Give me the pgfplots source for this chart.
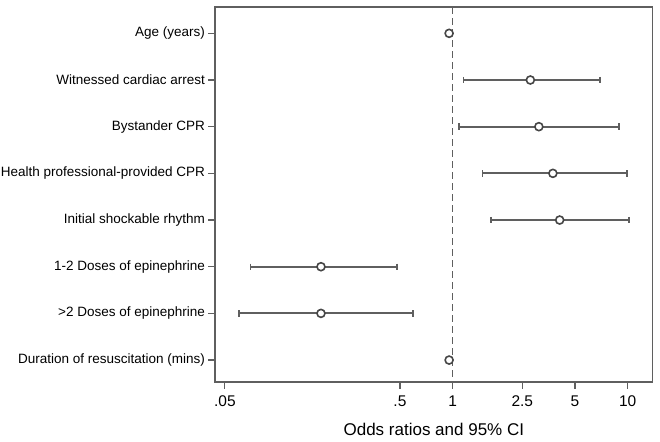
\documentclass[border=0pt]{standalone}
\usepackage{pgfplots}
\pgfplotsset{compat=1.18}
\usepackage{fontspec}
\setmainfont{Liberation Sans}
\definecolor{framegray}{RGB}{95,95,95}
\definecolor{bargray}{RGB}{95,95,95}
\definecolor{markgray}{RGB}{70,70,70}
\begin{document}
\begin{tikzpicture}
\begin{axis}[
  scale only axis,
  width=437.7pt, height=375pt,
  xmode=log, log basis x=10,
  xmin=0.0439, xmax=13.9,
  ymin=0.436, ymax=8.47, y dir=reverse,
  xtick={0.05,0.5,1,2.5,5,10},
  xticklabels={.05,.5,1,2.5,5,10},
  minor xtick={},
  ytick={1,2,3,4,5,6,7,8},
  yticklabels={Age (years),Witnessed cardiac arrest,Bystander CPR,Health professional-provided CPR,Initial shockable rhythm,1-2 Doses of epinephrine,>2 Doses of epinephrine,Duration of resuscitation (mins)},
  tick align=outside, tick pos=left,
  major tick length=6.5pt,
  axis line style={framegray, line width=1.5pt},
  every tick/.style={framegray, line width=1.2pt},
  /pgf/number format/assume math mode=true,
  xticklabel style={font=\fontsize{15.5}{18}\selectfont, text=black, yshift=-4pt},
  yticklabel style={font=\fontsize{13.5}{16}\selectfont, text=black},
  xlabel={Odds ratios and 95\% CI},
  xlabel style={font=\fontsize{17}{20}\selectfont, text=black, yshift=-9pt},
]
% reference line at OR = 1
\addplot[framegray, line width=1.4pt, dash pattern=on 7pt off 4pt] coordinates {(1,0.436) (1,8.47)};
% confidence intervals
\addplot[bargray, line width=2pt, mark=|, mark size=3.2pt, mark options={solid, line width=1.8pt}] coordinates {(1.155,2) (6.95,2)};
\addplot[bargray, line width=2pt, mark=|, mark size=3.2pt, mark options={solid, line width=1.8pt}] coordinates {(1.09,3) (8.89,3)};
\addplot[bargray, line width=2pt, mark=|, mark size=3.2pt, mark options={solid, line width=1.8pt}] coordinates {(1.48,4) (9.87,4)};
\addplot[bargray, line width=2pt, mark=|, mark size=3.2pt, mark options={solid, line width=1.8pt}] coordinates {(1.65,5) (10.2,5)};
\addplot[bargray, line width=2pt, mark=|, mark size=3.2pt, mark options={solid, line width=1.8pt}] coordinates {(0.070,6) (0.482,6)};
\addplot[bargray, line width=2pt, mark=|, mark size=3.2pt, mark options={solid, line width=1.8pt}] coordinates {(0.060,7) (0.591,7)};
% point estimates
\addplot[only marks, mark=*, mark size=4pt, mark options={draw=markgray, fill=white, line width=1.6pt}] coordinates {
(0.955,1) (2.78,2) (3.11,3) (3.74,4) (4.09,5) (0.177,6) (0.177,7) (0.955,8)};
\end{axis}
\pgfresetboundingbox
\path (current axis.south west) ++(-215pt,-60pt) rectangle ([shift={(7.3pt,7pt)}]current axis.north east);
\end{tikzpicture}
\end{document}
